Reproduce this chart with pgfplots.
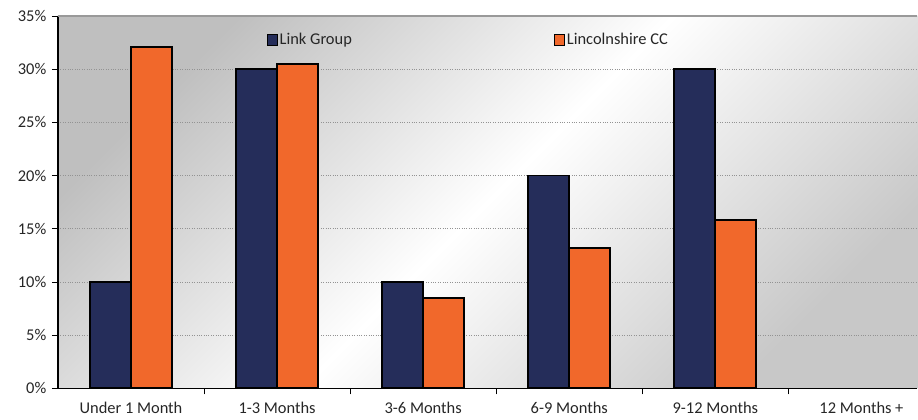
\documentclass[border=0pt]{standalone}
\usepackage{pgfplots}
\pgfplotsset{compat=1.18}
\usepackage{fontspec}
\setmainfont{Carlito}
\definecolor{linknavy}{RGB}{37,45,90}
\definecolor{lincsorange}{RGB}{241,104,43}
\begin{document}
\fontsize{16.5}{19}\selectfont
\begin{tikzpicture}
\path (-58bp,-28.3bp) rectangle (860bp,388.7bp);
\begin{axis}[
    at={(0,0)}, anchor=south west,
    scale only axis,
    width=860bp, height=372.7bp,
    xmin=-0.5, xmax=5.382,
    ymin=0, ymax=35,
    clip=false,
    ybar=0pt, bar width=41bp,
    axis lines*=left,
    axis line style={black, line width=1.2bp},
    axis background/.style={shade, top color=gray!50, bottom color=gray!43, middle color=white, shading angle=45},
    xtick={0,1,2,3,4,5},
    xticklabels={Under 1 Month, 1-3 Months, 3-6 Months, 6-9 Months, 9-12 Months, 12 Months +},
    major x tick style={draw=none},
    minor xtick={0.5,1.5,2.5,3.5,4.5},
    minor x tick style={black, line width=0.8bp},
    minor tick length=6bp,
    ytick={0,5,...,35},
    yticklabel={\pgfmathprintnumber{\tick}\%},
    y tick style={black, line width=0.8bp},
    major tick length=6bp,
    tick align=outside,
    /pgf/number format/assume math mode=true,
    tick label style={font=\fontsize{16.5}{19}\selectfont, text=black!85},
    x tick label style={yshift=-2bp},
    ymajorgrids=true,
    grid style={dotted, gray!85, line width=0.6bp},
    legend style={draw=none, fill=none, at={(0.239,0.965)}, anchor=north west,
        font=\fontsize{16.5}{19}\selectfont, text=black!85,
        /tikz/every even column/.append style={column sep=200bp}},
    legend columns=2,
    legend image code/.code={\draw[#1, draw=black, line width=1.2bp] (-3bp,-5bp) rectangle (7bp,6bp);},
]
\addplot[fill=linknavy, draw=black, line width=1.8bp]
    coordinates {(0,10) (1,30) (2,10) (3,20) (4,30)};
\addlegendentry{Link Group}
\addplot[fill=lincsorange, draw=black, line width=1.8bp]
    coordinates {(0,32.1) (1,30.5) (2,8.5) (3,13.2) (4,15.8)};
\addlegendentry{Lincolnshire CC}
\draw[gray!80, line width=1.5bp] (rel axis cs:0,1) -- (rel axis cs:1,1);
\end{axis}
\end{tikzpicture}
\end{document}
